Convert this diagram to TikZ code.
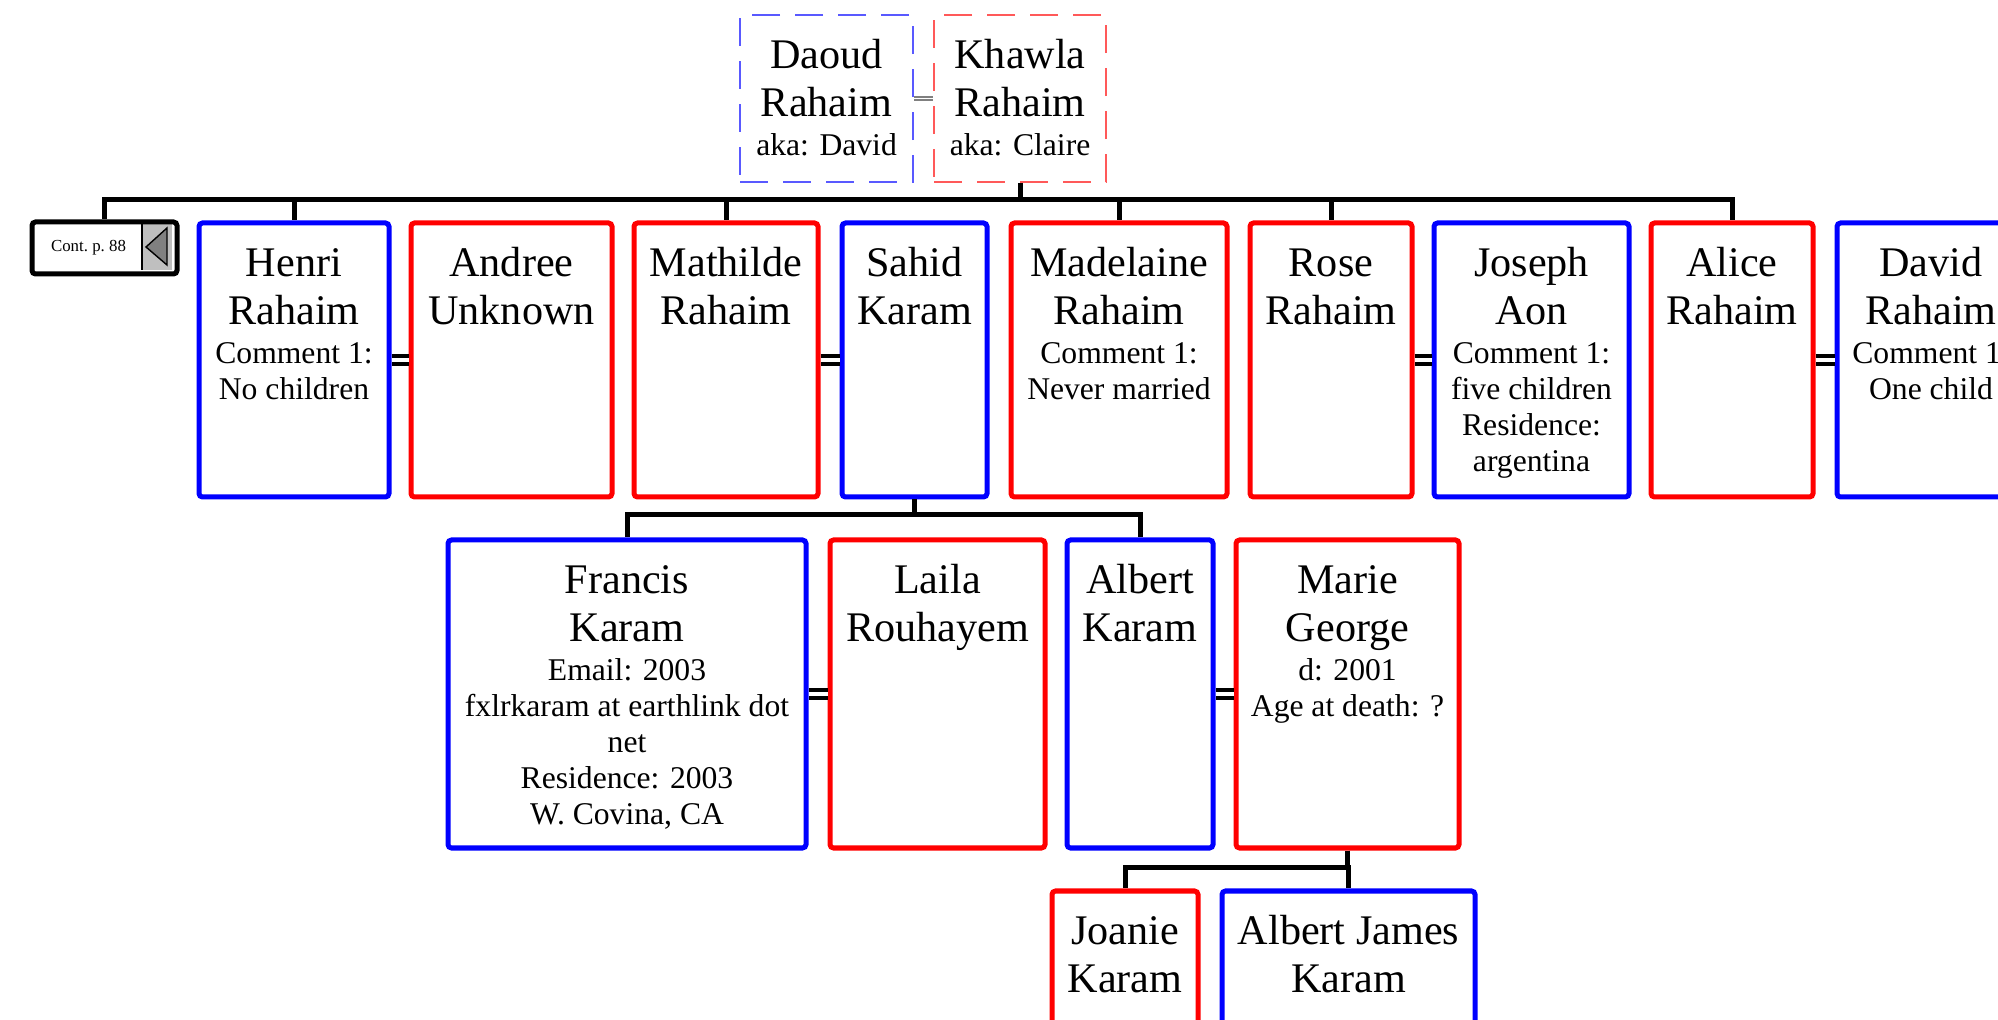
\documentclass[tikz,border=0pt]{standalone}
\usepackage{fontspec}
\setmainfont{Liberation Serif}
\newcommand{\namefont}{\fontsize{12}{13.66}\selectfont}
\newcommand{\notefont}{\fontsize{9}{10.25}\selectfont}
\newcommand{\card}[4]{\parbox[t][#2][t]{#1}{\centering\namefont\rule{0pt}{15.2pt}#3\par\notefont\vspace{0.85pt}#4\par}}
\tikzset{
  man/.style={draw=blue, line width=0.05cm, rounded corners=1pt, inner sep=0pt, anchor=north west},
  woman/.style={draw=red, line width=0.05cm, rounded corners=1pt, inner sep=0pt, anchor=north west},
  elder/.style={line width=0.6pt, dash pattern=on 0.28cm off 0.15cm, inner sep=0pt, anchor=north west},
  contbox/.style={draw=black, line width=0.05cm, rounded corners=1pt, inner sep=0pt, minimum height=0.52cm, anchor=north west},
  kin/.style={draw=black, line width=0.05cm},
  wed/.style={draw=black, double=white, line width=0.045cm, double distance=0.035cm},
  wedthin/.style={draw=gray, double=white, line width=0.5pt, double distance=0.5pt}
}
\begin{document}
\begin{tikzpicture}
\useasboundingbox (0,0) rectangle (19.98,-10.20);
\clip (0,0) rectangle (19.98,-10.20);

\node[elder, draw=blue!65] (daoud) at (7.39,-0.14) {\card{1.73cm}{1.67cm}{Daoud\\Rahaim}{aka: David}};
\node[elder, draw=red!65] (khawla) at (9.33,-0.14) {\card{1.72cm}{1.67cm}{Khawla\\Rahaim}{aka: Claire}};
\draw[wedthin] (daoud.east) -- (khawla.west);

\fill[black!25] (1.42,-2.23) rectangle (1.72,-2.70);
\draw[line width=0.3pt] (1.42,-2.23) -- (1.42,-2.70);
\filldraw[fill=black!50, draw=black, line width=0.4pt] (1.46,-2.47) -- (1.67,-2.28) -- (1.67,-2.65) -- cycle;
\node[contbox] (cont) at (0.295,-2.195) {\makebox[1.45cm][l]{\makebox[1.13cm]{\fontsize{4.8}{5.5}\selectfont Cont.\ p.\ 88}}};

\node[man] (henri) at (1.965,-2.205) {\card{1.90cm}{2.74cm}{Henri\\Rahaim}{Comment 1:\\No children}};
\node[woman] (andree) at (4.085,-2.205) {\card{2.01cm}{2.74cm}{Andree\\Unknown}{}};
\node[woman] (mathilde) at (6.315,-2.205) {\card{1.84cm}{2.74cm}{Mathilde\\Rahaim}{}};
\node[man] (sahid) at (8.395,-2.205) {\card{1.45cm}{2.74cm}{Sahid\\Karam}{}};
\node[woman] (madelaine) at (10.085,-2.205) {\card{2.16cm}{2.74cm}{Madelaine\\Rahaim}{Comment 1:\\Never married}};
\node[woman] (rose) at (12.475,-2.205) {\card{1.62cm}{2.74cm}{Rose\\Rahaim}{}};
\node[man] (joseph) at (14.315,-2.205) {\card{1.95cm}{2.74cm}{Joseph\\Aon}{Comment 1:\\five children\\Residence:\\argentina}};
\node[woman] (alice) at (16.485,-2.205) {\card{1.62cm}{2.74cm}{Alice\\Rahaim}{}};
\node[man] (david) at (18.345,-2.205) {\card{1.88cm}{2.74cm}{David\\Rahaim}{Comment 1:\\One child}};

\node[man] (francis) at (4.455,-5.375) {\card{3.58cm}{3.08cm}{Francis\\Karam}{Email: 2003\\fxlrkaram at earthlink dot\\net\\Residence: 2003\\W. Covina, CA}};
\node[woman] (laila) at (8.275,-5.375) {\card{2.15cm}{3.08cm}{Laila\\Rouhayem}{}};
\node[man] (albert) at (10.645,-5.375) {\card{1.46cm}{3.08cm}{Albert\\Karam}{}};
\node[woman] (marie) at (12.335,-5.375) {\card{2.23cm}{3.08cm}{Marie\\George}{d: 2001\\Age at death: ?}};

\node[woman] (joanie) at (10.495,-8.885) {\card{1.46cm}{1.50cm}{Joanie\\Karam}{}};
\node[man] (albertjames) at (12.195,-8.885) {\card{2.53cm}{1.50cm}{Albert James\\Karam}{}};

\coordinate (bar1) at (0,-2.00);
\coordinate (bar2) at (0,-5.15);
\coordinate (bar3) at (0,-8.68);
\foreach \c in {cont,henri,mathilde,madelaine,rose,alice}
  \draw[kin] (khawla.south) -- (khawla.south |- bar1) -| (\c.north);
\foreach \c in {francis,albert}
  \draw[kin] (sahid.south) -- (sahid.south |- bar2) -| (\c.north);
\foreach \c in {joanie,albertjames}
  \draw[kin] (marie.south) -- (marie.south |- bar3) -| (\c.north);

\draw[wed] (henri.east) -- (andree.west);
\draw[wed] (mathilde.east) -- (sahid.west);
\draw[wed] (rose.east) -- (joseph.west);
\draw[wed] (alice.east) -- (david.west);
\draw[wed] (francis.east) -- (laila.west);
\draw[wed] (albert.east) -- (marie.west);
\end{tikzpicture}
\end{document}
